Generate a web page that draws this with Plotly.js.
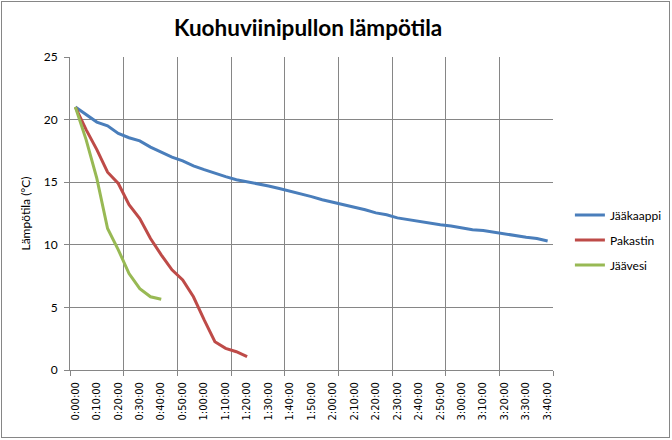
<!DOCTYPE html>
<html><head><meta charset="utf-8">
<script src="https://cdn.plot.ly/plotly-3.0.1.min.js"></script>
<style>
body{margin:0;padding:0;background:#fff;}
#wrap{position:relative;width:672px;height:440px;}
#chart{width:672px;height:440px;}
#frame{position:absolute;left:1px;top:1px;width:667px;height:435px;border:1px solid #868686;pointer-events:none;}
</style></head>
<body><div id="wrap"><div id="chart"></div><div id="frame"></div></div>
<script>
// Time labels every 5 minutes, 0:00:00 .. 3:40:00
const times = ["0:00:00","0:05:00","0:10:00","0:15:00","0:20:00","0:25:00","0:30:00","0:35:00","0:40:00","0:45:00",
"0:50:00","0:55:00","1:00:00","1:05:00","1:10:00","1:15:00","1:20:00","1:25:00","1:30:00","1:35:00",
"1:40:00","1:45:00","1:50:00","1:55:00","2:00:00","2:05:00","2:10:00","2:15:00","2:20:00","2:25:00",
"2:30:00","2:35:00","2:40:00","2:45:00","2:50:00","2:55:00","3:00:00","3:05:00","3:10:00","3:15:00",
"3:20:00","3:25:00","3:30:00","3:35:00","3:40:00"];
const jaakaappi = [21.0,20.4,19.8,19.5,18.9,18.55,18.3,17.8,17.4,17.0,
16.7,16.3,16.0,15.7,15.45,15.2,15.05,14.9,14.7,14.5,
14.3,14.1,13.85,13.6,13.4,13.2,13.05,12.8,12.55,12.4,
12.15,12.0,11.9,11.75,11.6,11.5,11.35,11.2,11.15,11.0,
10.85,10.7,10.6,10.5,10.3];
const pakastin = [21.0,19.2,17.6,15.8,14.9,13.2,12.1,10.5,9.2,8.0,7.2,5.85,4.0,2.26,1.73,1.46,1.06];
const jaavesi = [21.0,18.4,15.3,11.3,9.6,7.7,6.5,5.85,5.65];
const yTicks = [0,5,10,15,20,25];

const idx = times.map((t,i)=>i);
const labelIdx = idx.filter(i=>i%2===0);
const gridIdx = [];
for(let i=0;i<=times.length;i+=5) gridIdx.push(i-0.5);

const font = "Lato, 'DejaVu Sans', sans-serif";
const traces = [
 {name:"Jääkaappi", legendgroup:"a", x: idx.slice(0,jaakaappi.length), y: jaakaappi, mode:"lines", line:{color:"#4A7EBB",width:3}, xaxis:"x", yaxis:"y"},
 {name:"Pakastin", legendgroup:"b", x: idx.slice(0,pakastin.length), y: pakastin, mode:"lines", line:{color:"#BE4B48",width:3}, xaxis:"x", yaxis:"y"},
 {name:"Jäävesi", legendgroup:"c", x: idx.slice(0,jaavesi.length), y: jaavesi, mode:"lines", line:{color:"#98B954",width:3}, xaxis:"x", yaxis:"y"},
 {x:[], y:[], xaxis:"x2", yaxis:"y", showlegend:false, hoverinfo:"skip"}
];
const range = [-0.5, times.length-0.5];
const layout = {
 width:672, height:440,
 margin:{l:70,r:119,t:57,b:70, autoexpand:false},
 paper_bgcolor:"#fff", plot_bgcolor:"#fff",
 showlegend:true,
 title:{text:"Kuohuviinipullon lämpötila", x:0.493, xref:"paper", xanchor:"center", y:0.937, yref:"container", yanchor:"middle",
   font:{family:font, size:22.5, color:"#000", weight:"bold"}},
 xaxis:{range:range, tickmode:"array", tickvals:gridIdx, showticklabels:false, showgrid:true, gridcolor:"#868686", gridwidth:1,
   ticks:"outside", ticklen:5, tickcolor:"#868686", showline:true, linecolor:"#868686", linewidth:1, zeroline:false, fixedrange:true},
 xaxis2:{range:range, overlaying:"x", side:"bottom", anchor:"y", tickmode:"array", tickvals:labelIdx, ticktext:labelIdx.map(i=>times[i]),
   tickangle:-90, showgrid:false, ticks:"", showline:false, zeroline:false, ticklabelstandoff:9,
   tickfont:{family:"'DejaVu Sans', Verdana, sans-serif", size:10, color:"#000"}},
 yaxis:{range:[0,25], tickmode:"array", tickvals:yTicks, showgrid:true, gridcolor:"#868686", gridwidth:1,
   showline:true, linecolor:"#868686", linewidth:1, zeroline:false, ticks:"outside", ticklen:5, tickcolor:"#868686",
   ticklabelstandoff:4,
   tickfont:{family:font, size:12, color:"#000"},
   title:{text:"Lämpötila (°C)", font:{family:font, size:12, color:"#000"}, standoff:10}},
 legend:{x:1.035, xanchor:"left", y:0.415, yanchor:"middle", font:{family:font, size:12, color:"#000"}, tracegroupgap:6, itemwidth:30,
   bgcolor:"rgba(0,0,0,0)"}
};
Plotly.newPlot("chart", traces, layout, {displayModeBar:false, staticPlot:true});
</script></body></html>
